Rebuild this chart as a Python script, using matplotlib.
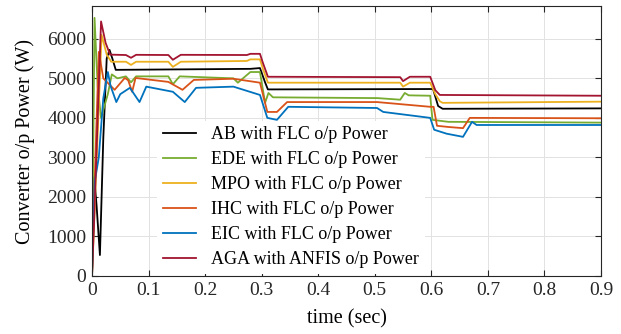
import matplotlib
matplotlib.use("Agg")
import matplotlib.pyplot as plt

plt.rcParams['font.family'] = ['Liberation Serif', 'DejaVu Serif']

# breakpoints (time in sec, power in W)
ab_t = [0, 0.004, 0.008, 0.014, 0.02, 0.026, 0.031, 0.036, 0.042, 0.28, 0.297, 0.306, 0.311,
        0.603, 0.612, 0.62, 0.9]
ab_p = [0, 2500, 1800, 530, 3500, 5500, 5720, 5500, 5215, 5240, 5260, 4900, 4720,
        4730, 4300, 4230, 4240]

ede_t = [0, 0.0045, 0.01, 0.016, 0.022, 0.028, 0.035, 0.045, 0.06, 0.069, 0.078, 0.135, 0.143,
         0.155, 0.25, 0.258, 0.28, 0.297, 0.306, 0.312, 0.32, 0.505, 0.545, 0.553, 0.56, 0.598,
         0.602, 0.63, 0.9]
ede_p = [0, 6530, 4800, 4000, 4300, 4600, 5100, 5000, 5050, 4900, 5050, 5050, 4850,
         5050, 5000, 4890, 5160, 5160, 4380, 4630, 4520, 4500, 4460, 4630, 4570, 4560,
         3950, 3900, 3880]

mpo_t = [0, 0.005, 0.017, 0.026, 0.034, 0.06, 0.069, 0.078, 0.135, 0.143, 0.157, 0.274, 0.28,
         0.297, 0.302, 0.311, 0.545, 0.55, 0.562, 0.598, 0.607, 0.615, 0.62, 0.9]
mpo_p = [0, 1800, 6100, 5600, 5420, 5420, 5340, 5420, 5420, 5290, 5420, 5440, 5480,
         5480, 5250, 4890, 4890, 4790, 4890, 4890, 4600, 4420, 4380, 4410]

ihc_t = [0, 0.006, 0.012, 0.02, 0.04, 0.058, 0.064, 0.071, 0.077, 0.135, 0.16, 0.18, 0.25,
         0.297, 0.31, 0.327, 0.345, 0.504, 0.598, 0.604, 0.61, 0.63, 0.656, 0.668, 0.9]
ihc_p = [0, 3000, 5670, 5000, 4710, 5010, 4950, 4660, 5010, 4910, 4710, 4960, 4990,
         4890, 4150, 4150, 4400, 4400, 4280, 4280, 3800, 3770, 3740, 4000, 3990]

eic_t = [0, 0.005, 0.012, 0.02, 0.028, 0.033, 0.043, 0.05, 0.067, 0.084, 0.096, 0.143, 0.164,
         0.184, 0.25, 0.297, 0.31, 0.327, 0.347, 0.504, 0.515, 0.598, 0.605, 0.627, 0.656,
         0.672, 0.68, 0.9]
eic_p = [0, 2400, 3000, 4500, 5160, 4800, 4400, 4600, 4760, 4400, 4790, 4660, 4400,
         4760, 4790, 4580, 4000, 3950, 4280, 4250, 4150, 4000, 3700, 3600, 3520,
         3900, 3820, 3820]

aga_t = [0, 0.004, 0.016, 0.024, 0.032, 0.06, 0.069, 0.078, 0.135, 0.143, 0.157, 0.274, 0.28,
         0.297, 0.302, 0.311, 0.545, 0.55, 0.562, 0.598, 0.607, 0.615, 0.9]
aga_p = [0, 1500, 6440, 5900, 5600, 5590, 5520, 5595, 5590, 5470, 5595, 5590, 5620,
         5620, 5400, 5040, 5030, 4930, 5040, 5040, 4700, 4580, 4560]

labels = ["AB with FLC o/p Power", "EDE with FLC o/p Power", "MPO with FLC o/p Power",
          "IHC with FLC o/p Power", "EIC with FLC o/p Power", "AGA with ANFIS o/p Power"]
colors = ["#000000", "#77AC30", "#EDB120", "#D95319", "#0072BD", "#A2142F"]

series = [(ab_t, ab_p), (ede_t, ede_p), (mpo_t, mpo_p),
          (ihc_t, ihc_p), (eic_t, eic_p), (aga_t, aga_p)]

fig = plt.figure(figsize=(6.21, 3.34), dpi=100)
ax = fig.add_axes([92 / 621, 1 - 276 / 334, 509 / 621, 270 / 334])

for (t, p), lab, c in zip(series, labels, colors):
    ax.plot(t, p, color=c, lw=1.3, label=lab)

ax.set_xlim(0, 0.9)
ax.set_ylim(0, 6830)
ax.set_xticks([0, 0.1, 0.2, 0.3, 0.4, 0.5, 0.6, 0.7, 0.8, 0.9])
ax.set_xticklabels(["0", "0.1", "0.2", "0.3", "0.4", "0.5", "0.6", "0.7", "0.8", "0.9"])
ax.set_yticks([0, 1000, 2000, 3000, 4000, 5000, 6000])
ax.grid(True, color="#e2e2e2", lw=0.7)
ax.set_axisbelow(True)
ax.tick_params(direction="in", top=True, right=True, length=4, labelsize=14,
               colors="#262626", pad=4)
for s in ax.spines.values():
    s.set_color("#262626")
    s.set_linewidth(0.8)

ax.set_xlabel("time (sec)", fontsize=14.5, labelpad=8)
ax.set_ylabel("Converter o/p Power (W)", fontsize=14.5, labelpad=9)

leg = ax.legend(loc="upper left", bbox_to_anchor=(0.128, 0.574), borderaxespad=0,
                frameon=True, fontsize=13, handlelength=1.85, labelspacing=0.44,
                handletextpad=0.85, borderpad=0.3)
leg.get_frame().set_facecolor("white")
leg.get_frame().set_edgecolor("none")
leg.get_frame().set_alpha(1)
leg.get_frame().set_boxstyle("square", pad=0)
for line in leg.get_lines():
    line.set_linewidth(1.3)

fig.savefig("out.png", dpi=100)
